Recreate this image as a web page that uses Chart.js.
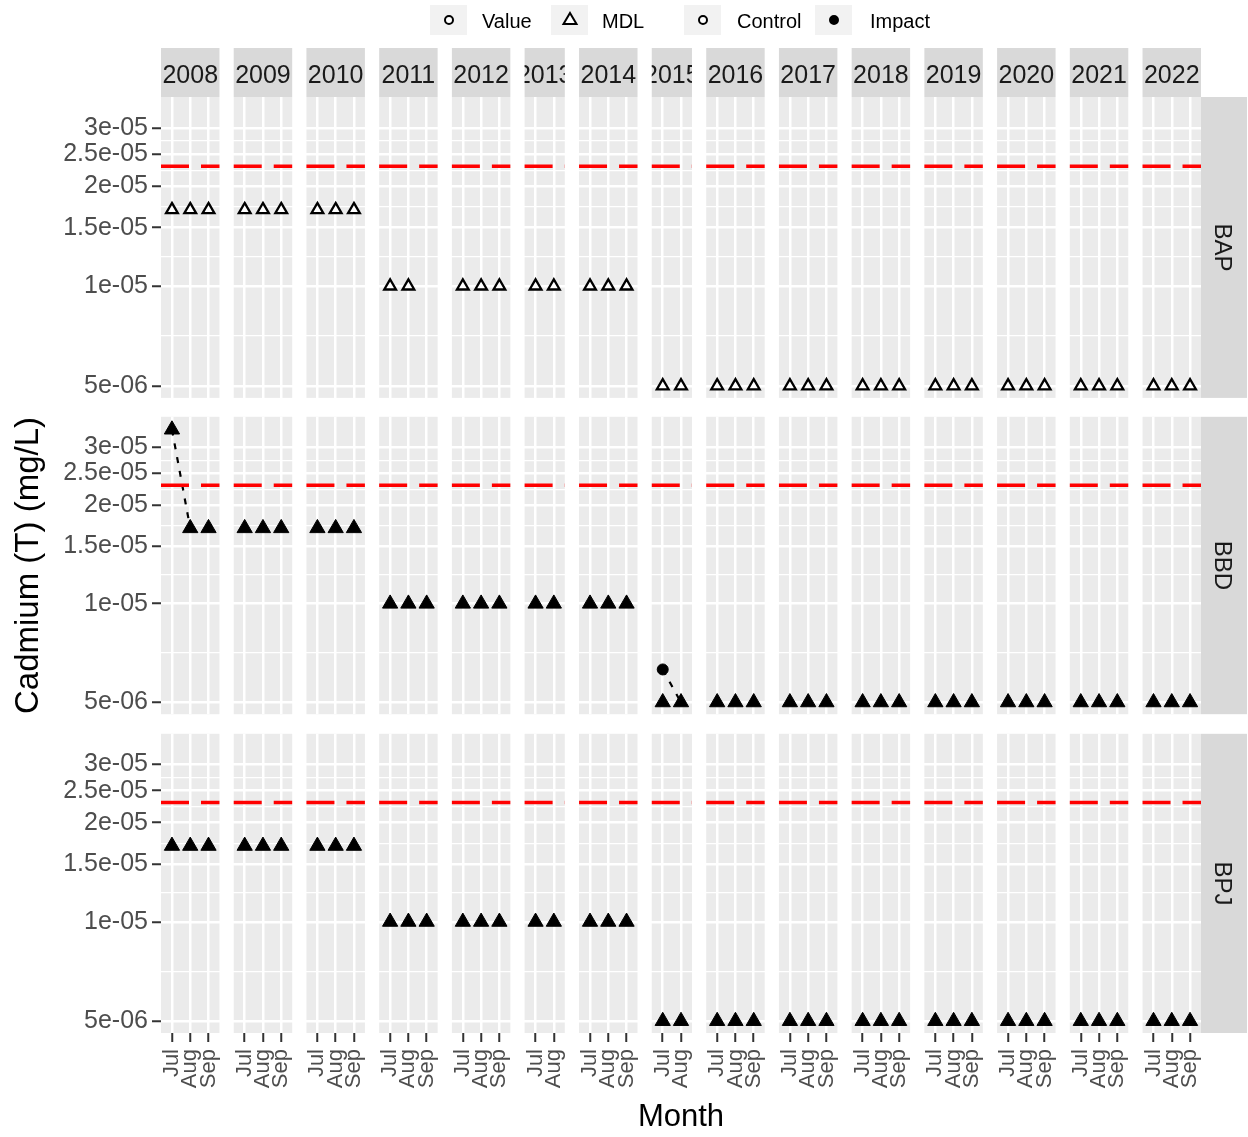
<!DOCTYPE html>
<html>
<head>
<meta charset="utf-8">
<script src="https://cdn.jsdelivr.net/npm/chart.js@4.4.1/dist/chart.umd.min.js"></script>
<style>
  html, body { margin: 0; padding: 0; background: #fff; }
  #wrap { position: relative; width: 1248px; height: 1137px; }
  .row { position: absolute; left: 0; width: 1248px; }
</style>
</head>
<body>
<div id="wrap">
  <div class="row" style="top:0;height:407px"><canvas id="rowBAP"></canvas></div>
  <div class="row" style="top:407px;height:317px"><canvas id="rowBBD"></canvas></div>
  <div class="row" style="top:724px;height:413px"><canvas id="rowBPJ"></canvas></div>
</div>
<script>
const years = ["2008", "2009", "2010", "2011", "2012", "2013", "2014", "2015",
               "2016", "2017", "2018", "2019", "2020", "2021", "2022"];
const monthsByYear = [
  ["Jul", "Aug", "Sep"], ["Jul", "Aug", "Sep"], ["Jul", "Aug", "Sep"], ["Jul", "Aug", "Sep"],
  ["Jul", "Aug", "Sep"], ["Jul", "Aug"], ["Jul", "Aug", "Sep"], ["Jul", "Aug"],
  ["Jul", "Aug", "Sep"], ["Jul", "Aug", "Sep"], ["Jul", "Aug", "Sep"], ["Jul", "Aug", "Sep"],
  ["Jul", "Aug", "Sep"], ["Jul", "Aug", "Sep"], ["Jul", "Aug", "Sep"]
];
const sites = ["BAP", "BBD", "BPJ"];
const siteType = ["Control", "Impact", "Impact"];

// values reported at the MDL (triangles), one list per year
const mdlBAP = [
  [1.7e-5, 1.7e-5, 1.7e-5], [1.7e-5, 1.7e-5, 1.7e-5], [1.7e-5, 1.7e-5, 1.7e-5], [1e-5, 1e-5, null],
  [1e-5, 1e-5, 1e-5], [1e-5, 1e-5], [1e-5, 1e-5, 1e-5], [5e-6, 5e-6],
  [5e-6, 5e-6, 5e-6], [5e-6, 5e-6, 5e-6], [5e-6, 5e-6, 5e-6], [5e-6, 5e-6, 5e-6],
  [5e-6, 5e-6, 5e-6], [5e-6, 5e-6, 5e-6], [5e-6, 5e-6, 5e-6]
];
const mdlBBD = [
  [3.4e-5, 1.7e-5, 1.7e-5], [1.7e-5, 1.7e-5, 1.7e-5], [1.7e-5, 1.7e-5, 1.7e-5], [1e-5, 1e-5, 1e-5],
  [1e-5, 1e-5, 1e-5], [1e-5, 1e-5], [1e-5, 1e-5, 1e-5], [5e-6, 5e-6],
  [5e-6, 5e-6, 5e-6], [5e-6, 5e-6, 5e-6], [5e-6, 5e-6, 5e-6], [5e-6, 5e-6, 5e-6],
  [5e-6, 5e-6, 5e-6], [5e-6, 5e-6, 5e-6], [5e-6, 5e-6, 5e-6]
];
const mdlBPJ = [
  [1.7e-5, 1.7e-5, 1.7e-5], [1.7e-5, 1.7e-5, 1.7e-5], [1.7e-5, 1.7e-5, 1.7e-5], [1e-5, 1e-5, 1e-5],
  [1e-5, 1e-5, 1e-5], [1e-5, 1e-5], [1e-5, 1e-5, 1e-5], [5e-6, 5e-6],
  [5e-6, 5e-6, 5e-6], [5e-6, 5e-6, 5e-6], [5e-6, 5e-6, 5e-6], [5e-6, 5e-6, 5e-6],
  [5e-6, 5e-6, 5e-6], [5e-6, 5e-6, 5e-6], [5e-6, 5e-6, 5e-6]
];
// measured values (circles)
const valueBAP = [];
const valueBBD = [{ year: "2015", month: "Jul", y: 6.3e-6 }];
const valueBPJ = [];
// dashed trend segments
const trendBAP = [];
const trendBBD = [
  [{ year: "2008", month: "Jul", y: 3.4e-5 }, { year: "2008", month: "Aug", y: 1.7e-5 }],
  [{ year: "2015", month: "Jul", y: 6.3e-6 }, { year: "2015", month: "Aug", y: 5e-6 }]
];
const trendBPJ = [];

const threshold = 2.3e-5;
const yTicks = [5e-6, 1e-5, 1.5e-5, 2e-5, 2.5e-5, 3e-5];
const yTickLabels = ["5e-06", "1e-05", "1.5e-05", "2e-05", "2.5e-05", "3e-05"];
const yMin = 4.6e-6, yMax = 3.72e-5;
const legendShape = ["Value", "MDL"];
const legendFill = ["Control", "Impact"];

const FONT = '"Liberation Sans", Arial, sans-serif';

// facet layout along one linear x axis (ggplot space = "free_x")
const PAD = 0.6, GAP = 0.78;
const panels = [];
let cursor = 0;
years.forEach((yr, i) => {
  const n = monthsByYear[i].length;
  const start = cursor, end = start + (n - 1) + 2 * PAD;
  panels.push({ year: yr, start, end, months: monthsByYear[i].map((m, j) => ({ label: m, x: start + PAD + j })) });
  cursor = end + GAP;
});
const xMax = panels[panels.length - 1].end;
const monthTicks = panels.flatMap(p => p.months);
const xOf = (year, month) => panels.find(p => p.year === year).months.find(m => m.label === month).x;

// y minor breaks at geometric midpoints (like ggplot on log10 scale)
const yMinor = yTicks.slice(1).map((v, i) => Math.sqrt(v * yTicks[i]));
const yAll = yTicks.concat(yMinor).sort((a, b) => a - b);
const isMajor = v => yTicks.some(t => Math.abs(t - v) / t < 1e-6);

function mdlPoints(arr) {
  const pts = [];
  arr.forEach((vals, i) => vals.forEach((v, j) => {
    if (v != null) pts.push({ x: panels[i].months[j].x, y: v });
  }));
  return pts;
}
function segPoints(segs) {
  const pts = [];
  segs.forEach(seg => {
    seg.forEach(p => pts.push({ x: xOf(p.year, p.month), y: p.y }));
    pts.push({ x: pts[pts.length - 1].x + 0.01, y: null });
  });
  return pts;
}
function thresholdPoints() {
  const pts = [];
  panels.forEach(p => {
    pts.push({ x: p.start, y: threshold }, { x: p.end, y: threshold }, { x: p.end + GAP / 2, y: null });
  });
  return pts;
}

const facetPlugin = {
  id: "facet",
  beforeDraw(chart) {
    const { ctx, chartArea: a, scales: { x } } = chart;
    ctx.save();
    ctx.fillStyle = "#EBEBEB";
    panels.forEach(p => {
      const l = x.getPixelForValue(p.start), r = x.getPixelForValue(p.end);
      ctx.fillRect(l, a.top, r - l, a.bottom - a.top);
    });
    ctx.restore();
  },
  afterDraw(chart, args, opts) {
    const { ctx, chartArea: a, scales: { x } } = chart;
    ctx.save();
    ctx.fillStyle = "#D9D9D9";
    ctx.fillRect(a.right, a.top, 46, a.bottom - a.top);
    ctx.fillStyle = "#1A1A1A";
    ctx.font = "24px " + FONT;
    ctx.textAlign = "center";
    ctx.textBaseline = "middle";
    ctx.translate(a.right + 21, (a.top + a.bottom) / 2);
    ctx.rotate(Math.PI / 2);
    ctx.fillText(opts.site, 0, 0);
    ctx.restore();
    if (!opts.top) return;

    // year strips
    panels.forEach(p => {
      const l = x.getPixelForValue(p.start), r = x.getPixelForValue(p.end);
      ctx.save();
      ctx.fillStyle = "#D9D9D9";
      ctx.fillRect(l, a.top - 49, r - l, 49);
      ctx.beginPath();
      ctx.rect(l, a.top - 49, r - l, 49);
      ctx.clip();
      ctx.fillStyle = "#1A1A1A";
      ctx.font = "25px " + FONT;
      ctx.textAlign = "center";
      ctx.textBaseline = "middle";
      ctx.fillText(p.year, (l + r) / 2, a.top - 21);
      ctx.restore();
    });

    // legend
    const keys = [
      { label: legendShape[0], box: 430, text: 482, shape: "circle", fill: "#fff" },
      { label: legendShape[1], box: 551, text: 602, shape: "triangle", fill: "#fff" },
      { label: legendFill[0], box: 684, text: 737, shape: "circle", fill: "#fff" },
      { label: legendFill[1], box: 815, text: 870, shape: "circle", fill: "#000" }
    ];
    keys.forEach(k => {
      ctx.save();
      ctx.fillStyle = "#F2F2F2";
      ctx.fillRect(k.box, 5, 37, 30);
      const cx = k.box + 19, cy = 20;
      ctx.fillStyle = k.fill;
      ctx.strokeStyle = "#000";
      ctx.lineWidth = 2;
      ctx.beginPath();
      if (k.shape === "circle") {
        ctx.arc(cx, cy, 4, 0, Math.PI * 2);
      } else {
        ctx.moveTo(cx, cy - 7);
        ctx.lineTo(cx + 6.5, cy + 4);
        ctx.lineTo(cx - 6.5, cy + 4);
        ctx.closePath();
      }
      ctx.fill();
      ctx.stroke();
      ctx.fillStyle = "#000";
      ctx.font = "20px " + FONT;
      ctx.textAlign = "left";
      ctx.textBaseline = "middle";
      ctx.fillText(k.label, k.text, 22);
      ctx.restore();
    });
  }
};

function makeRow(canvasId, idx, mdl, values, trend, cfg) {
  const control = siteType[idx] === "Control";
  const datasets = [
    {
      label: "MDL",
      data: mdlPoints(mdl),
      pointStyle: "triangle",
      pointRadius: control ? 6.8 : 8.8,
      pointHoverRadius: control ? 6.8 : 8.8,
      backgroundColor: control ? "#FFFFFF" : "#000000",
      borderColor: "#000000",
      pointBorderWidth: control ? 2.3 : 1,
      order: 1
    },
    {
      label: "Value",
      data: values.map(p => ({ x: xOf(p.year, p.month), y: p.y })),
      pointStyle: "circle",
      pointRadius: 5.5,
      backgroundColor: control ? "#FFFFFF" : "#000000",
      borderColor: "#000000",
      pointBorderWidth: 1,
      order: 1
    },
    {
      label: "trend",
      type: "line",
      data: segPoints(trend),
      showLine: true,
      spanGaps: false,
      borderColor: "#000000",
      borderWidth: 2.2,
      borderDash: [6, 8],
      pointRadius: 0,
      order: 3
    },
    {
      label: "threshold",
      type: "line",
      data: thresholdPoints(),
      showLine: true,
      spanGaps: false,
      borderColor: "#FF0000",
      borderWidth: 3.5,
      borderDash: [28, 12],
      pointRadius: 0,
      order: 2
    }
  ];

  return new Chart(document.getElementById(canvasId).getContext("2d"), {
    type: "scatter",
    data: { datasets },
    plugins: [facetPlugin],
    options: {
      responsive: true,
      maintainAspectRatio: false,
      animation: false,
      events: [],
      layout: { padding: cfg.padding },
      plugins: {
        legend: { display: false },
        tooltip: { enabled: false },
        facet: { site: sites[idx], top: cfg.top }
      },
      scales: {
        x: {
          type: "linear",
          min: 0,
          max: xMax,
          border: { display: false },
          afterBuildTicks: s => { s.ticks = monthTicks.map(m => ({ value: m.x })); },
          afterFit: s => {
            s.height = cfg.bottom ? 104 : 0;
            s.paddingLeft = 0; s.paddingRight = 0;
          },
          grid: {
            color: "#FFFFFF",
            lineWidth: 2.5,
            drawTicks: cfg.bottom,
            tickLength: 9,
            tickColor: "#333333",
            tickWidth: 2
          },
          ticks: {
            display: cfg.bottom,
            autoSkip: false,
            minRotation: 90,
            maxRotation: 90,
            padding: 7,
            color: "#4D4D4D",
            font: { family: FONT, size: 22 },
            callback: (v, i) => monthTicks[i] ? monthTicks[i].label : ""
          },
          title: {
            display: cfg.bottom,
            text: "Month",
            color: "#000000",
            font: { family: FONT, size: 31 },
            padding: { top: 0, bottom: 1 }
          }
        },
        y: {
          type: "logarithmic",
          min: yMin,
          max: yMax,
          border: { display: false },
          afterBuildTicks: s => { s.ticks = yAll.map(v => ({ value: v })); },
          afterFit: s => {
            s.width = 161;
            s.paddingTop = 0; s.paddingBottom = 0;
          },
          grid: {
            color: "#FFFFFF",
            lineWidth: c => (c.tick && isMajor(c.tick.value)) ? 2.5 : 1.3,
            tickLength: 9,
            tickWidth: 2,
            tickColor: c => (c.tick && isMajor(c.tick.value)) ? "#333333" : "rgba(0,0,0,0)"
          },
          ticks: {
            autoSkip: false,
            padding: 4,
            color: "#4D4D4D",
            font: { family: FONT, size: 25 },
            callback: v => {
              const k = yTicks.findIndex(t => Math.abs(t - v) / t < 1e-6);
              return k >= 0 ? yTickLabels[k] : "";
            }
          },
          title: {
            display: cfg.yTitle,
            text: "Cadmium (T) (mg/L)",
            color: "#000000",
            font: { family: FONT, size: 33 },
            padding: { top: 9, bottom: 0 }
          }
        }
      }
    }
  });
}

makeRow("rowBAP", 0, mdlBAP, valueBAP, trendBAP,
  { top: true, bottom: false, yTitle: false, padding: { top: 97, bottom: 8, left: 0, right: 47 } });
makeRow("rowBBD", 1, mdlBBD, valueBBD, trendBBD,
  { top: false, bottom: false, yTitle: true, padding: { top: 8, bottom: 7, left: 0, right: 47 } });
makeRow("rowBPJ", 2, mdlBPJ, valueBPJ, trendBPJ,
  { top: false, bottom: true, yTitle: false, padding: { top: 7, bottom: 0, left: 0, right: 47 } });
</script>
</body>
</html>
